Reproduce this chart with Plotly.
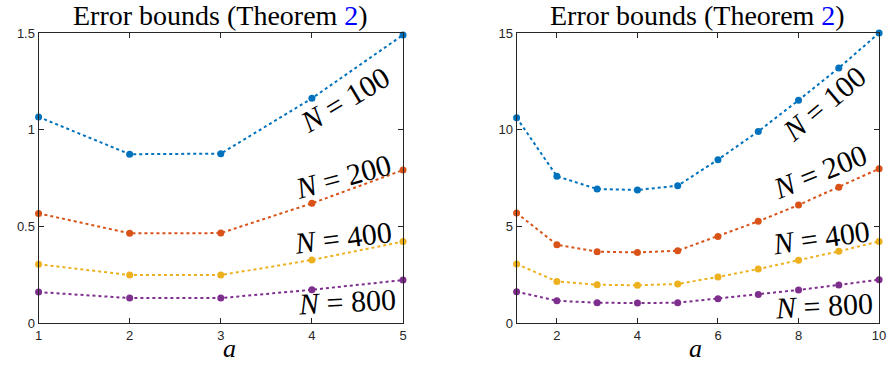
import plotly.graph_objects as go

# ---- data ----
a_left = [1, 2, 3, 4, 5]
left_N100 = [1.066, 0.873, 0.876, 1.162, 1.49]
left_N200 = [0.567, 0.464, 0.465, 0.619, 0.791]
left_N400 = [0.304, 0.248, 0.248, 0.326, 0.421]
left_N800 = [0.160, 0.129, 0.129, 0.172, 0.222]

a_right = [1, 2, 3, 4, 5, 6, 7, 8, 9, 10]
right_N100 = [10.62, 7.59, 6.93, 6.88, 7.10, 8.45, 9.91, 11.52, 13.19, 15.0]
right_N200 = [5.69, 4.05, 3.69, 3.65, 3.74, 4.48, 5.26, 6.10, 7.02, 7.98]
right_N400 = [3.05, 2.15, 1.98, 1.95, 2.02, 2.38, 2.79, 3.24, 3.71, 4.22]
right_N800 = [1.62, 1.15, 1.05, 1.03, 1.05, 1.26, 1.48, 1.71, 1.97, 2.24]

series_labels = ["N = 100", "N = 200", "N = 400", "N = 800"]
colors = ["#0072BD", "#D95319", "#EDB120", "#7E2F8E"]

left_ticks_x = [1, 2, 3, 4, 5]
left_ticks_y = [0, 0.5, 1, 1.5]
left_ticktext_y = ["0", "0.5", "1", "1.5"]
right_ticks_x = [2, 4, 6, 8, 10]
right_ticks_y = [0, 5, 10, 15]

title_text = "Error bounds (Theorem <span style='color:#0000FF'>2</span>)"

# label positions (data coords) and angles
left_lab = [(4.36, 1.154, -31), (4.34, 0.760, -15), (4.34, 0.440, -7), (4.38, 0.109, -3)]
right_lab = [(8.63, 11.35, -40), (8.53, 7.83, -22), (8.55, 4.41, -8), (8.63, 0.90, -3)]

fig = go.Figure()

left_series = [left_N100, left_N200, left_N400, left_N800]
right_series = [right_N100, right_N200, right_N400, right_N800]

for ys, c in zip(left_series, colors):
    fig.add_trace(go.Scatter(x=a_left, y=ys, mode="lines+markers",
                             line=dict(color=c, width=2, dash="dot"),
                             marker=dict(color=c, size=7),
                             cliponaxis=False, showlegend=False,
                             xaxis="x", yaxis="y"))
for ys, c in zip(right_series, colors):
    fig.add_trace(go.Scatter(x=a_right, y=ys, mode="lines+markers",
                             line=dict(color=c, width=2, dash="dot"),
                             marker=dict(color=c, size=7),
                             cliponaxis=False, showlegend=False,
                             xaxis="x2", yaxis="y2"))

axcol = "#262626"
tickfont = dict(family="Liberation Sans, Arial, sans-serif", size=13, color=axcol)
common = dict(showline=True, linecolor=axcol, linewidth=1, mirror="ticks",
              ticks="inside", ticklen=5, tickcolor=axcol, tickwidth=1,
              showgrid=False, zeroline=False, tickfont=tickfont)

W, H = 893, 367
fig.update_layout(
    width=W, height=H,
    margin=dict(l=0, r=0, t=33, b=44),
    paper_bgcolor="white", plot_bgcolor="white",
    xaxis=dict(domain=[35 / W, 404 / W], range=[1, 5], tickvals=left_ticks_x,
               anchor="y", **common),
    yaxis=dict(domain=[0, 1], range=[0, 1.5], tickvals=left_ticks_y,
               ticktext=left_ticktext_y, anchor="x", **common),
    xaxis2=dict(domain=[519 / W, 886 / W], range=[1, 10], tickvals=right_ticks_x,
                anchor="y2", **common),
    yaxis2=dict(domain=[0, 1], range=[0, 15], tickvals=right_ticks_y,
                anchor="x2", **common),
)

serif = "Liberation Serif, Times New Roman, serif"
annotations = []
# titles
for cx in [(35 + 404) / 2 / W, (519 + 886) / 2 / W]:
    annotations.append(dict(x=cx, y=1, xref="paper", yref="paper",
                            yanchor="bottom", xanchor="center", yshift=0,
                            text=title_text, showarrow=False,
                            font=dict(family=serif, size=28, color="#000000")))
# x-axis labels
for xr, xv in [("x", 3.1), ("x2", 5.45)]:
    annotations.append(dict(x=xv, y=0, xref=xr, yref="paper", yanchor="middle",
                            xanchor="center", yshift=-25,
                            text="<i>a</i>", showarrow=False,
                            font=dict(family=serif, size=26, color="#000000")))
# series labels
for (xv, yv, ang), lab in zip(left_lab, series_labels):
    annotations.append(dict(x=xv, y=yv, xref="x", yref="y", text="<i>N</i> = " + lab[4:],
                            textangle=ang, showarrow=False,
                            font=dict(family=serif, size=30, color="#000000")))
for (xv, yv, ang), lab in zip(right_lab, series_labels):
    annotations.append(dict(x=xv, y=yv, xref="x2", yref="y2", text="<i>N</i> = " + lab[4:],
                            textangle=ang, showarrow=False,
                            font=dict(family=serif, size=30, color="#000000")))
fig.update_layout(annotations=annotations)

fig.write_html("out.html", config={"displayModeBar": False},
               post_script="document.body.style.margin='0';document.body.style.overflow='hidden';")
